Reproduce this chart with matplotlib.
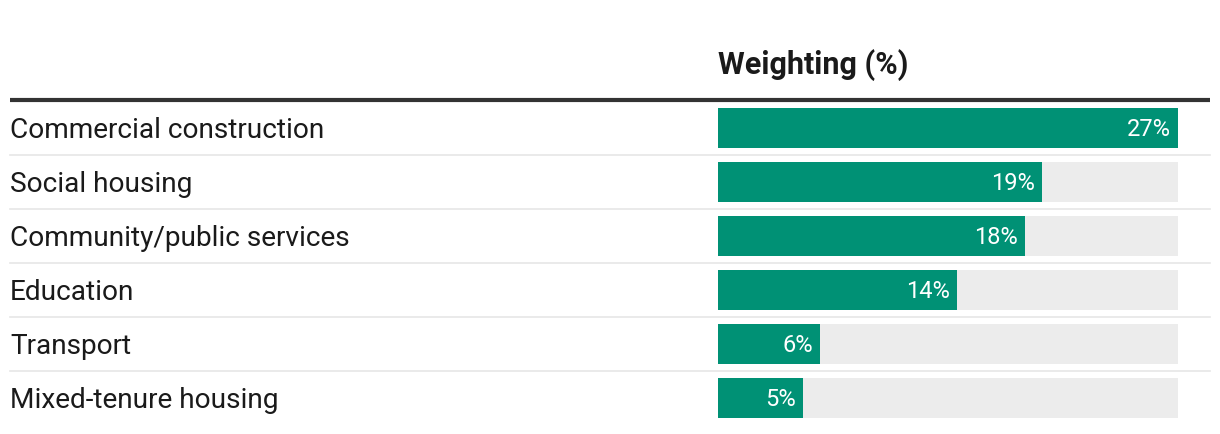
import matplotlib
matplotlib.use("Agg")
import matplotlib.pyplot as plt
from matplotlib.transforms import blended_transform_factory

# --- data ---
categories = ["Commercial construction", "Social housing", "Community/public services",
              "Education", "Transport", "Mixed-tenure housing"]
weights = [27, 19, 18, 14, 6, 5]
header = "Weighting (%)"

plt.rcParams["font.family"] = ["Roboto", "DejaVu Sans"]

W, H = 1220, 434
fig = plt.figure(figsize=(W / 100, H / 100), dpi=100)
fig.patch.set_facecolor("white")

# bar area: x 718..1178 px, rows from 101..425 px
ax = fig.add_axes([718 / W, 1 - 425 / H, 460 / W, 324 / H])
n = len(categories)
ymax = max(weights)
ys = list(range(n))

ax.barh(ys, [ymax] * n, height=40 / 54, color="#ececec", zorder=1)
ax.barh(ys, weights, height=40 / 54, color="#009175", zorder=2)
ax.set_xlim(0, ymax)
ax.set_ylim(n - 0.5, -0.5)
ax.axis("off")

for y, v in zip(ys, weights):
    ax.annotate(f"{v}%", (v, y + 0.03), xytext=(-5, 0), textcoords="offset points",
                ha="right", va="center", color="white", fontsize=17, zorder=3)

trans = blended_transform_factory(fig.transFigure, ax.transData)
x0, x1 = 10 / W, 1210 / W
for y, lab in zip(ys, categories):
    ax.text(x0, y + 0.04, lab, transform=trans, ha="left", va="center",
            fontsize=20.2, color="#1a1a1a")

# row separators
for i in range(n - 1):
    ax.plot([x0, x1], [i + 0.5, i + 0.5], transform=trans, color="#e6e6e6",
            linewidth=1.2, clip_on=False, zorder=0)

# header rule
ax.plot([x0, x1], [-0.52, -0.52], transform=trans, color="#333333",
        linewidth=3, clip_on=False, solid_capstyle="butt")

fig.text(718 / W, 1 - 65 / H, header, ha="left", va="center",
         fontsize=22, fontweight="bold", color="#1a1a1a")

fig.savefig("out.png", dpi=100)
